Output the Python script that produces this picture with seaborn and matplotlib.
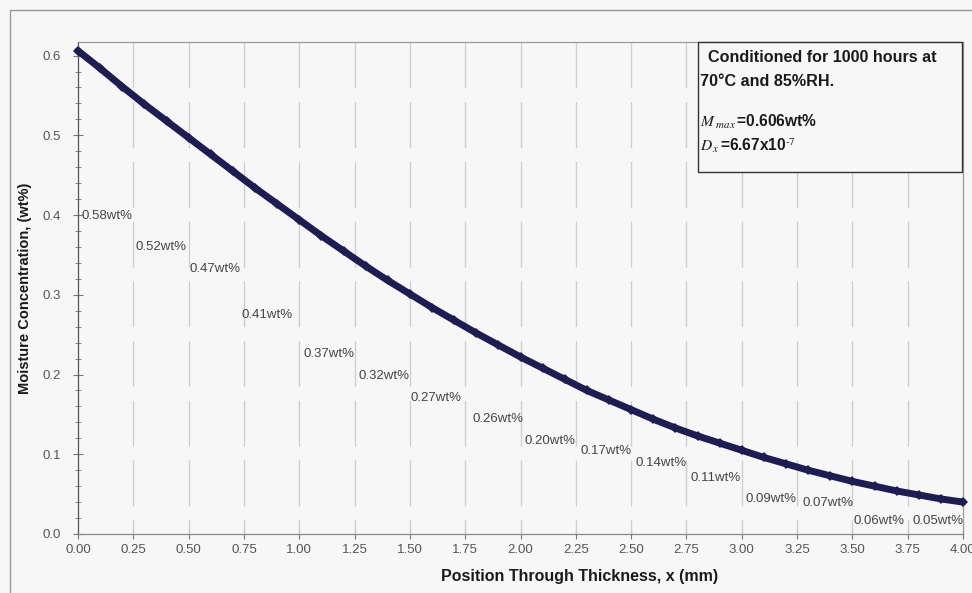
import matplotlib
matplotlib.use("Agg")
import matplotlib.pyplot as plt
from matplotlib.lines import Line2D
from matplotlib.patches import Rectangle
import seaborn as sns
import pandas as pd

# Moisture profile through the laminate thickness (mm, wt%)
depth_mm = [0.0, 0.1, 0.2, 0.3, 0.4, 0.5, 0.6, 0.7, 0.8, 0.9,
            1.0, 1.1, 1.2, 1.3, 1.4, 1.5, 1.6, 1.7, 1.8, 1.9,
            2.0, 2.1, 2.2, 2.3, 2.4, 2.5, 2.6, 2.7, 2.8, 2.9,
            3.0, 3.1, 3.2, 3.3, 3.4, 3.5, 3.6, 3.7, 3.8, 3.9, 4.0]
moisture_wt = [0.606, 0.584, 0.561, 0.539, 0.518, 0.497, 0.476, 0.455, 0.434, 0.414,
               0.394, 0.374, 0.355, 0.336, 0.318, 0.301, 0.284, 0.268, 0.252, 0.237,
               0.222, 0.208, 0.194, 0.180, 0.168, 0.156, 0.144, 0.133, 0.123, 0.114,
               0.105, 0.096, 0.088, 0.080, 0.073, 0.066, 0.060, 0.054, 0.049, 0.044, 0.040]

# Measured slice values and where their labels sit
slice_values = [0.58, 0.52, 0.47, 0.41, 0.37, 0.32, 0.27, 0.26,
                0.20, 0.17, 0.14, 0.11, 0.09, 0.07, 0.06, 0.05]
label_x = [0.014, 0.262, 0.502, 0.741, 1.017, 1.266, 1.501, 1.781,
           2.016, 2.269, 2.518, 2.767, 3.015, 3.273, 3.503, 3.774]
label_y = [0.399, 0.360, 0.3325, 0.275, 0.226, 0.198, 0.171, 0.144,
           0.117, 0.104, 0.089, 0.070, 0.044, 0.039, 0.016, 0.016]

x_ticks = [0.00, 0.25, 0.50, 0.75, 1.00, 1.25, 1.50, 1.75, 2.00,
           2.25, 2.50, 2.75, 3.00, 3.25, 3.50, 3.75, 4.00]
y_ticks = [0.0, 0.1, 0.2, 0.3, 0.4, 0.5, 0.6]

sns.set_theme(style="white")
plt.rcParams["font.family"] = ["Liberation Sans", "DejaVu Sans"]
plt.rcParams["mathtext.fontset"] = "stix"

BG = "#f7f7f7"
NAVY = "#1d1d52"
TICK_GREY = "#555555"

fig = plt.figure(figsize=(9.72, 5.93), dpi=100, facecolor=BG)
ax = fig.add_axes([78 / 972, 1 - 534 / 593, (963 - 78) / 972, (534 - 42) / 593])
ax.set_facecolor(BG)

ymax = 0.617
ax.set_xlim(0, 4)
ax.set_ylim(0, ymax)

# Dashed vertical guides, dashes starting at the top edge
for xv in x_ticks[1:-1]:
    ax.add_line(Line2D([xv, xv], [ymax, 0], color="#cfcfcf", lw=1.0,
                       linestyle=(0, (33, 10)), zorder=1))

df = pd.DataFrame({"depth": depth_mm, "moisture": moisture_wt})
sns.lineplot(data=df, x="depth", y="moisture", ax=ax, color=NAVY, lw=5.0,
             marker="D", markersize=5, markeredgewidth=0, zorder=3,
             clip_on=False)

for lx, ly, v in zip(label_x, label_y, slice_values):
    ax.text(lx, ly, f"{v:.2f}wt%", ha="left", va="center", fontsize=9.5,
            color="#444444", zorder=4)

ax.set_xticks(x_ticks)
ax.set_xticklabels([f"{t:.2f}" for t in x_ticks])
ax.set_yticks(y_ticks)
ax.set_yticklabels([f"{t:.1f}" for t in y_ticks])
ax.set_yticks([i * 0.02 for i in range(31)], minor=True)
ax.tick_params(axis="x", which="major", direction="inout", length=7,
               width=0.8, color="#777777", labelcolor=TICK_GREY, labelsize=9.5,
               pad=4, bottom=True)
ax.tick_params(axis="y", which="major", direction="inout", length=7,
               width=0.8, color="#777777", labelcolor=TICK_GREY, labelsize=9.5,
               pad=9, left=True)
ax.tick_params(axis="y", which="minor", direction="inout", length=4,
               width=0.7, color="#888888", left=True)

for side in ["left", "bottom", "right", "top"]:
    ax.spines[side].set_visible(True)
    ax.spines[side].set_linewidth(0.9)
ax.spines["left"].set_color("#555555")
ax.spines["bottom"].set_color("#888888")
ax.spines["right"].set_color("#999999")
ax.spines["top"].set_color("#999999")

ax.set_xlabel("Position Through Thickness, x (mm)", fontsize=11.5,
              fontweight="bold", color="#1a1a1a")
ax.xaxis.set_label_coords((580 - 78) / 885, -(577 - 534) / 492)
ax.xaxis.label.set_va("center")
ax.set_ylabel("Moisture Concentration, (wt%)", fontsize=10.5,
              fontweight="bold", color="#1a1a1a")
ax.yaxis.set_label_coords(-(78 - 25) / 885, 0.5)
ax.yaxis.label.set_va("center")

# Conditioning note box in the top-right corner
bx0, bx1 = 698 / 972, 962 / 972
by0, by1 = 1 - 172 / 593, 1 - 42 / 593
fig.patches.append(Rectangle((bx0, by0), bx1 - bx0, by1 - by0,
                             transform=fig.transFigure, facecolor=BG,
                             edgecolor="#333333", lw=1.0, zorder=5))
fig.text(708 / 972, 1 - 57 / 593, "Conditioned for 1000 hours at",
         fontsize=11.6, fontweight="bold", color="#1a1a1a", va="center", zorder=6)
fig.text(700 / 972, 1 - 81 / 593, "70\u00b0C and 85%RH.",
         fontsize=11.6, fontweight="bold", color="#1a1a1a", va="center", zorder=6)
fig.text(700 / 972, 1 - 122 / 593, r"$M_{\,\,max}\,$=0.606wt%",
         fontsize=11.2, fontweight="bold", color="#1a1a1a", va="center", zorder=6)
fig.text(700 / 972, 1 - 146 / 593, r"$D_{\,x}\,$=6.67x10$^{\text{-}7}$",
         fontsize=11.2, fontweight="bold", color="#1a1a1a", va="center", zorder=6)

# Outer frame of the figure
fig.lines.append(Line2D([10 / 972, 10 / 972], [0, 1 - 10 / 593],
                        transform=fig.transFigure, color="#9a9a9a", lw=1.0))
fig.lines.append(Line2D([10 / 972, 1], [1 - 10 / 593, 1 - 10 / 593],
                        transform=fig.transFigure, color="#9a9a9a", lw=1.0))

fig.savefig("out.png", dpi=100, facecolor=BG)
